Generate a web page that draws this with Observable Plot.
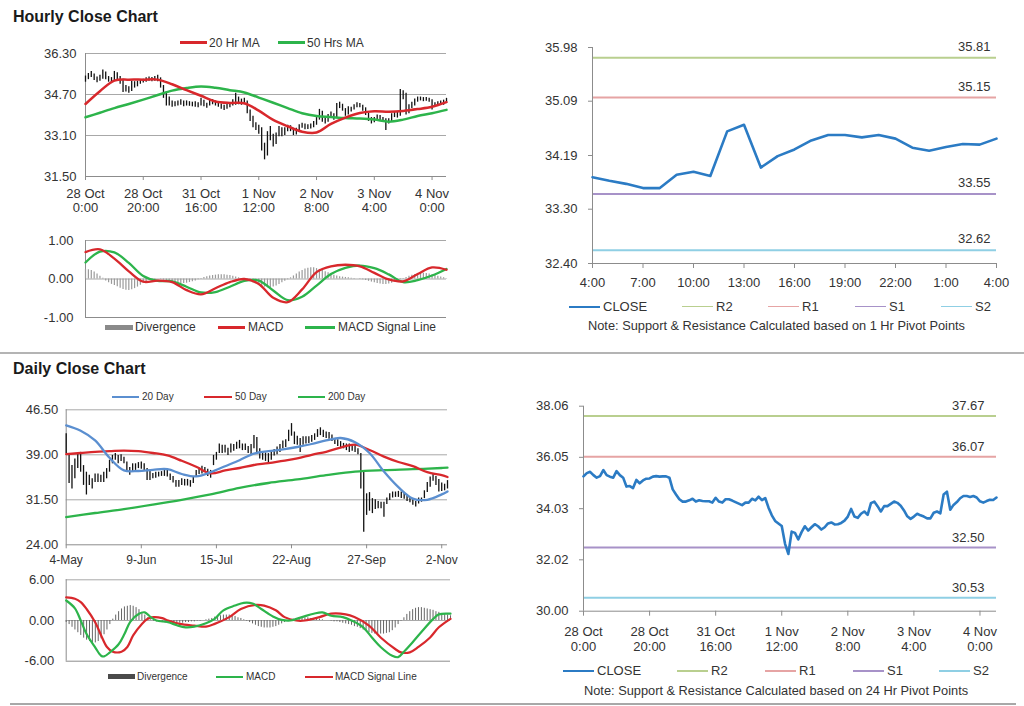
<!DOCTYPE html>
<html><head><meta charset="utf-8">
<script src="https://cdn.jsdelivr.net/npm/d3@7"></script>
<script src="https://cdn.jsdelivr.net/npm/@observablehq/plot@0.6"></script>
<style>
html,body{margin:0;padding:0;background:#fff;}
#page{position:relative;width:1024px;height:706px;overflow:hidden;font-family:"Liberation Sans",Arial,Helvetica,sans-serif;color:#333;}
.t{position:absolute;white-space:nowrap;}
.sw{position:absolute;}
</style></head><body><div id="page"></div>
<script>
// ---------------- DATA ----------------
// Hourly (28 Oct 0:00 .. 4 Nov 5:00), one value per trading hour
const hourlyTickIdx = [0,20,40,60,80,100,120];
const hourlyTickLabels = ["28 Oct\n0:00","28 Oct\n20:00","31 Oct\n16:00","1 Nov\n12:00","2 Nov\n8:00","3 Nov\n4:00","4 Nov\n0:00"];
const hourlyClose = [35.30,35.43,35.48,35.35,35.25,35.31,35.55,35.35,35.29,35.25,
 35.51,35.35,35.25,34.90,34.92,34.84,35.16,35.03,35.14,35.21,
 35.22,35.29,35.31,35.29,35.30,35.30,35.25,34.79,34.59,34.40,
 34.31,34.31,34.36,34.42,34.31,34.36,34.33,34.32,34.32,34.27,
 34.46,34.31,34.27,34.40,34.40,34.35,34.29,34.23,34.17,34.27,
 34.27,34.42,34.36,34.50,34.37,34.45,34.07,33.77,33.55,33.45,
 33.35,32.65,32.25,33.13,33.08,32.82,33.11,33.34,33.17,33.30,
 33.42,33.34,33.21,33.30,33.45,33.49,33.41,33.42,33.47,33.56,
 33.72,34.02,33.72,33.67,33.83,33.92,33.79,34.25,34.31,34.13,
 33.92,34.13,34.13,34.22,34.31,34.26,34.15,33.96,33.73,33.63,
 33.72,33.83,33.77,33.72,33.65,33.65,33.87,33.92,33.85,34.59,
 34.70,33.99,34.18,34.29,34.44,34.53,34.53,34.49,34.53,34.47,
 34.32,34.27,34.33,34.38,34.37,34.47];
const hourlyHigh = [35.42,35.52,35.60,35.50,35.38,35.45,35.66,35.58,35.40,35.36,
 35.60,35.55,35.40,35.30,35.05,35.00,35.22,35.20,35.22,35.28,
 35.30,35.35,35.38,35.36,35.40,35.45,35.35,35.05,34.80,34.60,
 34.45,34.42,34.45,34.50,34.45,34.45,34.42,34.40,34.42,34.38,
 34.55,34.48,34.36,34.48,34.50,34.45,34.38,34.33,34.28,34.35,
 34.38,34.50,34.75,34.60,34.52,34.55,34.45,34.10,33.85,33.60,
 33.50,33.40,32.80,33.25,33.45,33.15,33.20,33.45,33.40,33.40,
 33.50,33.48,33.38,33.38,33.52,33.58,33.55,33.52,33.55,33.65,
 33.80,34.12,34.05,33.80,33.92,34.02,33.95,34.35,34.40,34.32,
 34.15,34.22,34.20,34.30,34.38,34.35,34.28,34.18,33.98,33.80,
 33.80,33.90,33.88,33.80,33.75,33.75,33.95,34.00,34.00,34.90,
 34.85,34.75,34.30,34.40,34.52,34.60,34.60,34.58,34.58,34.55,
 34.50,34.38,34.42,34.45,34.48,34.55];
const hourlyLow = [35.18,35.28,35.36,35.25,35.16,35.22,35.30,35.28,35.18,35.15,
 35.22,35.28,35.10,34.78,34.80,34.75,34.82,34.95,35.00,35.10,
 35.15,35.18,35.22,35.20,35.22,35.20,34.95,34.55,34.25,34.25,
 34.20,34.22,34.25,34.28,34.22,34.25,34.24,34.22,34.20,34.18,
 34.25,34.22,34.16,34.25,34.30,34.25,34.20,34.12,34.08,34.12,
 34.18,34.25,34.28,34.30,34.28,34.30,33.95,33.65,33.40,33.30,
 33.15,32.50,32.15,32.30,32.90,32.65,32.75,33.05,33.05,33.10,
 33.25,33.25,33.10,33.12,33.25,33.38,33.32,33.33,33.35,33.40,
 33.50,33.70,33.62,33.55,33.62,33.78,33.70,33.78,34.15,34.05,
 33.85,33.90,34.02,34.10,34.18,34.18,34.05,33.88,33.65,33.55,
 33.60,33.68,33.68,33.62,33.30,33.55,33.62,33.80,33.78,33.85,
 34.50,33.90,33.95,34.15,34.25,34.40,34.45,34.42,34.44,34.40,
 34.10,34.20,34.25,34.30,34.28,34.35];
const hourlyYTicks = [31.5,33.1,34.7,36.3];
const maHourIdx = [0,5,10,15,20,25,30,35,40,45,50,55,60,65,70,75,80,85,90,95,100,105,110,115,120,125];
const ma20Hr  = [34.33,34.83,35.24,35.28,35.28,35.28,35.10,34.87,34.65,34.43,34.37,34.36,34.07,33.71,33.46,33.25,33.22,33.55,33.80,33.98,34.05,34.03,34.06,34.13,34.22,34.40];
const ma50Hrs = [33.81,33.99,34.17,34.33,34.50,34.68,34.85,34.95,35.01,34.96,34.87,34.78,34.58,34.38,34.17,33.97,33.86,33.82,33.78,33.76,33.72,33.64,33.72,33.86,33.97,34.10];
const macdHr   = [0.70,0.77,0.53,0.20,-0.07,-0.04,-0.08,-0.29,-0.40,-0.24,-0.08,0.00,-0.13,-0.49,-0.60,-0.27,0.18,0.33,0.37,0.33,0.16,-0.01,-0.06,0.13,0.30,0.24];
const signalHr = [0.43,0.71,0.69,0.42,0.08,-0.05,-0.06,-0.20,-0.35,-0.34,-0.20,-0.05,-0.04,-0.30,-0.55,-0.46,-0.17,0.13,0.29,0.35,0.28,0.12,-0.08,-0.03,0.09,0.26];
const divHr = [0.25,0.24,0.22,0.18,0.13,0.07,0.02,-0.05,-0.10,-0.14,
 -0.17,-0.20,-0.24,-0.27,-0.29,-0.30,-0.28,-0.25,-0.21,-0.16,
 -0.11,-0.07,-0.04,-0.02,-0.01,0.00,-0.01,-0.03,-0.05,-0.07,
 -0.09,-0.10,-0.11,-0.12,-0.12,-0.11,-0.09,-0.07,-0.05,-0.02,
 0.01,0.04,0.06,0.08,0.09,0.10,0.11,0.11,0.11,0.10,
 0.09,0.07,0.05,0.03,0.01,-0.01,-0.04,-0.07,-0.10,-0.13,
 -0.16,-0.19,-0.21,-0.23,-0.23,-0.21,-0.18,-0.14,-0.10,-0.06,
 -0.02,0.03,0.08,0.13,0.18,0.22,0.26,0.28,0.29,0.29,
 0.27,0.25,0.22,0.19,0.16,0.13,0.10,0.08,0.06,0.05,
 0.04,0.03,0.02,0.01,0.00,-0.01,-0.02,-0.04,-0.06,-0.08,
 -0.10,-0.12,-0.13,-0.14,-0.14,-0.13,-0.11,-0.08,-0.05,-0.02,
 0.01,0.04,0.07,0.10,0.12,0.14,0.15,0.15,0.14,0.13,
 0.11,0.09,0.07,0.05,0.03,0.01];
const macdHrTicks = [-1,0,1];

// Last 24 hours (4:00 .. 4:00) and pivot levels
const lastDayStart = 101;
const lastDayTickIdx = [0,3,6,9,12,15,18,21,24];
const lastDayTickLabels = ["4:00","7:00","10:00","13:00","16:00","19:00","22:00","1:00","4:00"];
const pivotNames = ["R2","R1","S1","S2"];
const pivotColors = ["#b9cf8f","#e6a4a4","#a792c8","#8fcfe4"];
const pivot1Hr = [35.81,35.15,33.55,32.62];
const pivot1HrTicks = ["32.40","33.30","34.19","35.09","35.98"];
const pivot24Hr = [37.67,36.07,32.50,30.53];
const pivot24HrTicks = ["30.00","32.02","34.03","36.05","38.06"];

// Daily (4 May .. 4 Nov), one value per trading day
const dailyTickIdx = [0,26,52,78,104,130];
const dailyTickLabels = ["4-May","9-Jun","15-Jul","22-Aug","27-Sep","2-Nov"];
const dailyHigh = [42.5,39.2,37.2,38.3,39.4,39.4,37.2,36.1,35.6,35.0,
 35.8,35.8,35.6,36.1,36.7,38.1,38.9,39.2,38.9,39.0,
 38.6,37.8,36.9,37.5,37.5,37.7,37.8,37.5,36.7,36.4,
 35.9,36.1,36.1,36.2,36.4,36.6,35.8,35.4,34.7,34.7,
 35.0,34.9,34.9,34.7,35.3,36.4,36.8,37.1,36.9,36.6,
 36.4,38.9,39.4,40.8,40.6,40.6,40.1,40.8,40.7,41.1,
 41.4,40.8,40.8,40.4,40.7,42.2,41.9,40.0,39.4,39.3,
 39.2,39.6,39.9,40.3,40.7,41.3,41.5,43.1,44.2,42.8,
 42.1,41.7,42.0,42.0,42.0,42.2,42.5,43.2,43.5,43.1,
 42.8,42.7,42.3,41.7,41.5,41.2,40.9,40.8,40.8,40.7,
 40.7,40.0,39.2,36.1,32.5,32.7,31.7,31.5,31.2,31.1,
 31.1,31.8,32.5,32.8,32.8,32.9,32.8,32.7,32.3,31.9,
 31.5,31.2,31.8,31.8,33.0,34.4,35.3,35.8,35.4,34.9,
 34.3,34.1,34.7];
const dailyLow = [39.2,34.2,33.3,35.0,36.7,36.1,33.9,32.3,33.9,33.3,
 34.4,34.4,34.4,34.4,35.0,36.1,37.5,38.1,37.5,37.9,
 37.5,36.4,35.6,36.1,36.4,36.7,36.6,36.4,34.7,34.7,
 35.0,35.1,35.3,35.4,35.4,35.3,34.7,34.3,33.6,33.6,
 33.9,33.8,33.8,33.6,34.2,35.3,35.7,35.8,36.1,35.4,
 35.1,37.2,38.1,39.2,39.2,39.3,38.9,39.3,39.6,39.9,
 40.0,39.7,39.7,39.2,39.0,40.0,39.4,38.3,38.1,37.9,
 37.5,38.1,38.8,39.0,39.4,40.0,40.2,41.2,42.1,40.7,
 40.6,39.4,40.6,40.8,40.9,41.1,41.4,41.9,42.2,41.9,
 41.7,41.6,41.2,40.7,40.4,40.1,40.0,39.7,39.4,39.6,
 39.4,39.0,33.3,26.1,28.9,29.6,29.2,29.9,30.0,30.0,
 28.6,30.7,31.4,31.8,31.9,31.9,31.7,31.6,31.2,31.0,
 30.6,30.3,30.8,31.1,31.7,32.7,33.6,34.6,33.9,32.8,
 32.9,33.0,33.3];
const dailyYTicks = [24,31.5,39,46.5];
const maDayIdx = [0,5,10,15,20,25,30,35,40,45,50,55,60,65,70,75,80,85,90,95,100,105,110,115,120,125,130,132];
const ma20Day = [43.9,43.0,41.4,38.5,36.4,36.3,36.5,36.6,35.8,35.4,36.1,37.1,38.1,39.2,39.6,39.9,40.3,40.8,41.4,41.8,41.1,39.3,36.2,33.6,31.7,31.5,32.4,32.9];
const ma50Day = [39.1,39.3,39.5,39.6,39.7,39.6,39.3,38.9,38.0,37.0,35.9,36.4,36.8,37.3,37.6,38.0,38.4,39.0,39.5,40.2,40.7,39.8,38.7,37.8,37.1,36.1,35.6,35.3];
const ma200DayIdx = [0,10,20,30,40,50,60,70,80,90,100,110,120,130,132];
const ma200Day = [28.6,29.3,29.95,30.7,31.5,32.4,33.5,34.3,34.9,35.6,36.2,36.45,36.6,36.8,36.85];
const macdDayIdx = [0,3,5,7,10,12,13,15,18,20,22,25,27,29,31,35,38,41,44,48,51,54,58,61,64,67,71,74,77,81,85,88,91,95,98,102,105,108,112,114,116,119,122,126,128,132];
const macdDay = [2.95,1.8,0,-2.0,-4.0,-5.2,-5.3,-4.7,-3.5,-2.0,-0.2,1.0,1.2,0.5,0,-0.25,-0.7,-1.0,-0.9,-0.4,0.25,1.5,2.2,2.6,2.5,1.7,0.6,0.1,0,0.5,1.0,1.2,0.7,0.5,0,-1.0,-2.5,-3.9,-5.2,-5.4,-4.6,-3.2,-1.7,0.2,0.9,1.0];
const signalDayIdx = [0,3,5,7,10,12,14,16,19,21,23,26,28,30,33,35,39,44,48,51,56,60,65,68,72,75,79,82,87,91,96,99,104,108,113,115,118,121,125,128,132];
const signalDay = [3.4,3.2,2.7,1.7,-0.3,-2.2,-3.9,-4.6,-4.6,-3.9,-2.2,-0.5,0.25,0.5,0.35,0,-0.5,-0.75,-0.9,-0.5,0.5,1.7,2.3,2.2,1.5,0.5,0,0,0.5,1.0,0.9,0.5,-0.75,-2.5,-4.2,-4.7,-4.7,-3.9,-2.5,-1.0,0.25];
const divDay = [-0.3,-0.6,-1.0,-1.4,-1.8,-2.2,-2.6,-2.9,-3.1,-3.3,
 -3.3,-3.1,-2.7,-2.1,-1.4,-0.6,0.2,0.8,1.3,1.7,
 2.0,2.1,2.2,2.1,1.9,1.6,1.2,0.8,0.4,0.1,
 -0.1,-0.2,-0.3,-0.3,-0.4,-0.4,-0.4,-0.4,-0.4,-0.4,
 -0.4,-0.3,-0.3,-0.2,-0.2,-0.1,-0.1,0.0,0.1,0.2,
 0.3,0.5,0.6,0.7,0.8,0.8,0.8,0.7,0.6,0.4,
 0.3,0.1,-0.1,-0.3,-0.5,-0.7,-0.9,-1.0,-1.1,-1.1,
 -1.1,-1.0,-0.9,-0.7,-0.5,-0.3,-0.1,0.1,0.2,0.3,
 0.4,0.4,0.4,0.4,0.3,0.3,0.2,0.2,0.1,0.0,
 0.0,-0.1,-0.2,-0.2,-0.3,-0.4,-0.5,-0.6,-0.7,-0.9,
 -1.0,-1.2,-1.4,-1.6,-1.8,-1.9,-2.0,-2.0,-2.0,-2.0,
 -1.9,-1.8,-1.5,-1.1,-0.6,-0.1,0.4,0.9,1.3,1.6,
 1.8,1.9,1.9,1.8,1.7,1.6,1.5,1.3,1.2,1.0,
 0.9,0.8,0.7];
const macdDayTicks = [-6,0,6];

// ---------------- STYLE ----------------
const FONT = '"Liberation Sans", Arial, Helvetica, sans-serif';
const RED = "#d8282c", GREEN = "#2db44b", BLUE20 = "#5b8fd0", CLOSE = "#2b7bc4";
const GRID = "#a8a8a8", AXIS = "#8c8c8c";
const page = document.getElementById("page");

function txt(s, x, cy, size, o = {}) {
  const d = document.createElement("div");
  d.className = "t";
  d.textContent = s;
  d.style.left = x + "px";
  d.style.top = (cy - size * 0.6) + "px";
  d.style.fontSize = size + "px";
  d.style.lineHeight = (size * 1.2) + "px";
  if (o.bold) d.style.fontWeight = "bold";
  d.style.color = o.color || "#333";
  page.appendChild(d);
}
function sw(x1, x2, cy, color, h) {
  const d = document.createElement("div");
  d.className = "sw";
  Object.assign(d.style, {left: x1 + "px", top: (cy - h / 2) + "px", width: (x2 - x1) + "px", height: h + "px", background: color});
  page.appendChild(d);
}
function chart(area, box, fontSize, plot) {
  const p = Plot.plot({
    width: box.w, height: box.h,
    marginLeft: area.l - box.x, marginRight: box.x + box.w - area.r,
    marginTop: area.t - box.y, marginBottom: box.y + box.h - area.b,
    style: {fontFamily: FONT, fontSize: fontSize + "px", color: "#333", background: "transparent", overflow: "visible"},
    ...plot
  });
  p.style.position = "absolute"; p.style.left = box.x + "px"; p.style.top = box.y + "px";
  page.appendChild(p);
}
const fmt2 = d => d.toFixed(2);
const idxOf = arr => arr.map((d, i) => i);

// ---------------- TITLES / SEPARATORS ----------------
txt("Hourly Close Chart", 13, 16.3, 16, {bold: true, color: "#1a1a1a"});
txt("Daily Close Chart", 13, 369, 16, {bold: true, color: "#1a1a1a"});
sw(0, 1024, 352.5, "#b4b4b4", 2);
sw(10, 1016, 704, "#a8a8a8", 2);

// ---------------- 1. HOURLY PRICE ----------------
sw(180, 207, 42.7, RED, 2.5); txt("20 Hr MA", 209, 42.7, 12);
sw(278, 305, 42.7, GREEN, 2.5); txt("50 Hrs MA", 307, 42.7, 12);
const hIdx = idxOf(hourlyClose);
chart({l: 85, t: 53, r: 446, b: 176}, {x: 0, y: 30, w: 470, h: 200}, 13, {
  x: {domain: [0, 125]}, y: {domain: [31.5, 36.3]},
  marks: [
    Plot.ruleY(hourlyYTicks.slice(1), {stroke: GRID}),
    Plot.ruleY([hourlyYTicks[0]], {stroke: AXIS}),
    Plot.ruleX([0], {stroke: AXIS}),
    Plot.ruleX(hIdx, {x: d => d, y1: d => hourlyLow[d], y2: d => hourlyHigh[d], stroke: "#111", strokeWidth: 1.3}),
    Plot.line(maHourIdx, {x: d => d, y: (d, i) => ma50Hrs[i], stroke: GREEN, strokeWidth: 2.5, curve: "catmull-rom"}),
    Plot.line(maHourIdx, {x: d => d, y: (d, i) => ma20Hr[i], stroke: RED, strokeWidth: 2.5, curve: "catmull-rom"}),
    Plot.axisY({ticks: hourlyYTicks, tickFormat: fmt2, tickSize: 0, tickPadding: 9, label: null}),
    Plot.axisX({ticks: hourlyTickIdx, tickFormat: d => hourlyTickLabels[hourlyTickIdx.indexOf(d)], tickSize: 4, tickPadding: 7, stroke: AXIS, label: null, lineHeight: 1.1})
  ]
});

// ---------------- 2. HOURLY MACD ----------------
chart({l: 85, t: 240, r: 446, b: 317}, {x: 0, y: 230, w: 470, h: 95}, 13, {
  x: {domain: [0, 125], axis: null}, y: {domain: [-1, 1]},
  marks: [
    Plot.ruleY([1, 0], {stroke: GRID}),
    Plot.ruleY([-1], {stroke: AXIS}),
    Plot.ruleX([0], {stroke: AXIS}),
    Plot.ruleX(hIdx, {x: d => d, y1: 0, y2: d => divHr[d], stroke: "#9a9a9a", strokeWidth: 1.2}),
    Plot.line(maHourIdx, {x: d => d, y: (d, i) => signalHr[i], stroke: GREEN, strokeWidth: 2.3, curve: "catmull-rom"}),
    Plot.line(maHourIdx, {x: d => d, y: (d, i) => macdHr[i], stroke: RED, strokeWidth: 2.3, curve: "catmull-rom"}),
    Plot.axisY({ticks: macdHrTicks, tickFormat: fmt2, tickSize: 0, tickPadding: 12, label: null})
  ]
});
sw(105, 133, 327.3, "#8a8a8a", 5); txt("Divergence", 135, 327.3, 12);
sw(218, 245, 327.3, RED, 2.5); txt("MACD", 248, 327.3, 12);
sw(305, 335, 327.3, GREEN, 2.5); txt("MACD Signal Line", 338, 327.3, 12);

// ---------------- 3. LAST 24H + 1HR PIVOTS ----------------
const lastDay = hourlyClose.slice(lastDayStart);
chart({l: 592, t: 47, r: 996, b: 263}, {x: 520, y: 35, w: 500, h: 265}, 13, {
  x: {domain: [0, 24]}, y: {domain: [32.40, 35.98]},
  marks: [
    Plot.ruleY(pivot1Hr, {stroke: (d, i) => pivotColors[i], strokeWidth: 2}),
    Plot.text(pivot1Hr, {x: 24, y: d => d, text: fmt2, dx: -6, dy: -11, textAnchor: "end", fontSize: 13, fill: "#333"}),
    Plot.ruleX([0], {stroke: AXIS}),
    Plot.ruleY([32.40], {stroke: AXIS}),
    Plot.line(lastDay, {x: (d, i) => i, y: d => d, stroke: CLOSE, strokeWidth: 2.6}),
    Plot.axisY({ticks: pivot1HrTicks.map(Number), tickFormat: fmt2, tickSize: 4, tickPadding: 11, stroke: AXIS, label: null}),
    Plot.axisX({ticks: lastDayTickIdx, tickFormat: d => lastDayTickLabels[lastDayTickIdx.indexOf(d)], tickSize: 5, tickPadding: 9, stroke: AXIS, label: null})
  ]
});
function pivotLegend(cy, pos) {
  sw(pos[0], pos[0] + 31, cy, CLOSE, 2); txt("CLOSE", pos[0] + 34, cy, 13);
  pivotNames.forEach((n, i) => { sw(pos[i + 1], pos[i + 1] + 31, cy, pivotColors[i], 1.5); txt(n, pos[i + 1] + 34, cy, 13); });
}
pivotLegend(306.7, [569, 682, 768, 855, 941]);
txt("Note: Support & Resistance Calculated based on 1 Hr Pivot Points", 588, 325.7, 12.8);

// ---------------- 4. HOURLY CLOSE + 24HR PIVOTS ----------------
chart({l: 583, t: 405.7, r: 996, b: 610.7}, {x: 520, y: 395, w: 500, h: 265}, 13, {
  x: {domain: [0, 125]}, y: {domain: [30.00, 38.06]},
  marks: [
    Plot.ruleY(pivot24Hr, {stroke: (d, i) => pivotColors[i], strokeWidth: 2}),
    Plot.text(pivot24Hr, {x: 125, y: d => d, text: fmt2, dx: -12, dy: -10, textAnchor: "end", fontSize: 13, fill: "#333"}),
    Plot.ruleX([0], {stroke: AXIS}),
    Plot.ruleY([30.00], {stroke: AXIS}),
    Plot.line(hourlyClose, {x: (d, i) => i, y: d => d, stroke: CLOSE, strokeWidth: 2.6}),
    Plot.axisY({ticks: pivot24HrTicks.map(Number), tickFormat: fmt2, tickSize: 4, tickPadding: 11, stroke: AXIS, label: null}),
    Plot.axisX({ticks: hourlyTickIdx, tickFormat: d => hourlyTickLabels[hourlyTickIdx.indexOf(d)], tickSize: 5, tickPadding: 9, stroke: AXIS, label: null, lineHeight: 1.18})
  ]
});
pivotLegend(671, [563, 677, 765, 853, 939]);
txt("Note: Support & Resistance Calculated based on 24 Hr Pivot Points", 584, 690.7, 12.8);

// ---------------- 5. DAILY PRICE ----------------
sw(112, 139, 396.7, BLUE20, 2); txt("20 Day", 142, 396.7, 10);
sw(204, 232, 396.7, RED, 2); txt("50 Day", 235, 396.7, 10);
sw(298, 325, 396.7, GREEN, 2); txt("200 Day", 328, 396.7, 10);
const dIdx = idxOf(dailyHigh);
chart({l: 65.7, t: 409.3, r: 447, b: 544.3}, {x: 0, y: 400, w: 470, h: 175}, 12, {
  x: {domain: [0, 132]}, y: {domain: [24, 46.5]},
  marks: [
    Plot.ruleY(dailyYTicks.slice(1), {stroke: GRID}),
    Plot.ruleY([dailyYTicks[0]], {stroke: AXIS}),
    Plot.ruleX([0], {stroke: AXIS}),
    Plot.ruleX(dIdx, {x: d => d, y1: d => dailyLow[d], y2: d => dailyHigh[d], stroke: "#111", strokeWidth: 1.3}),
    Plot.line(ma200DayIdx, {x: d => d, y: (d, i) => ma200Day[i], stroke: GREEN, strokeWidth: 2.3, curve: "catmull-rom"}),
    Plot.line(maDayIdx, {x: d => d, y: (d, i) => ma50Day[i], stroke: RED, strokeWidth: 2.3, curve: "catmull-rom"}),
    Plot.line(maDayIdx, {x: d => d, y: (d, i) => ma20Day[i], stroke: BLUE20, strokeWidth: 2.3, curve: "catmull-rom"}),
    Plot.axisY({ticks: dailyYTicks, tickFormat: fmt2, tickSize: 0, tickPadding: 8, label: null, fontSize: 13}),
    Plot.axisX({ticks: dailyTickIdx, tickFormat: d => dailyTickLabels[dailyTickIdx.indexOf(d)], tickSize: 4, tickPadding: 7, stroke: AXIS, label: null})
  ]
});

// ---------------- 6. DAILY MACD ----------------
chart({l: 65.7, t: 579.3, r: 450, b: 660.7}, {x: 0, y: 570, w: 470, h: 100}, 13, {
  x: {domain: [0, 132], axis: null}, y: {domain: [-6, 6]},
  marks: [
    Plot.ruleY([6, 0], {stroke: GRID}),
    Plot.ruleY([-6], {stroke: AXIS}),
    Plot.ruleX([0], {stroke: AXIS}),
    Plot.ruleX(dIdx, {x: d => d, y1: 0, y2: d => divDay[d], stroke: "#666", strokeWidth: 1}),
    Plot.line(signalDayIdx, {x: d => d, y: (d, i) => signalDay[i], stroke: RED, strokeWidth: 2.2, curve: "catmull-rom"}),
    Plot.line(macdDayIdx, {x: d => d, y: (d, i) => macdDay[i], stroke: GREEN, strokeWidth: 2.2, curve: "catmull-rom"}),
    Plot.axisY({ticks: macdDayTicks, tickFormat: fmt2, tickSize: 0, tickPadding: 12, label: null})
  ]
});
sw(108, 135, 676.7, "#4a4a4a", 5); txt("Divergence", 137, 676.7, 10);
sw(216, 243, 676.7, GREEN, 2); txt("MACD", 246, 676.7, 10);
sw(305, 333, 676.7, RED, 2); txt("MACD Signal Line", 335, 676.7, 10);
</script></body></html>
